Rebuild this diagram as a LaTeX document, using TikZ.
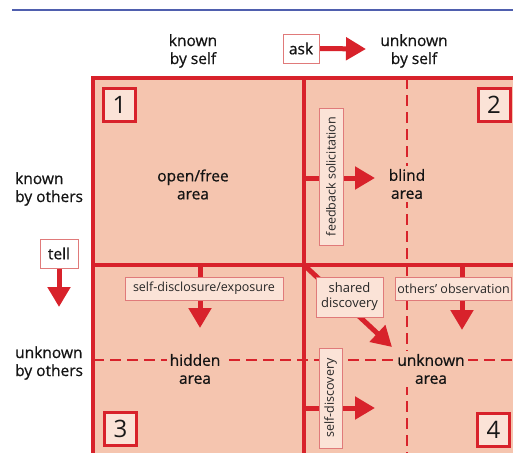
\documentclass[tikz,border=0pt]{standalone}
\usepackage{fontspec}
\setmainfont{Open Sans}
\newfontfamily\medfont{Open Sans}[FakeBold=0.7]
\usetikzlibrary{arrows.meta}
\definecolor{peach}{HTML}{F5C5AF}
\definecolor{jred}{HTML}{D8222B}
\definecolor{lbl}{HTML}{FBE3D7}
\definecolor{lblborder}{HTML}{E07A7A}
\definecolor{topblue}{HTML}{4F5FAE}
\pgfdeclarelayer{bottom}\pgfdeclarelayer{arrows}
\pgfsetlayers{bottom,arrows,main}
\begin{document}
\begin{tikzpicture}[x=1pt,y=-1pt,
 head/.style={text=black!92,font=\medfont\fontsize{15.5}{18}\selectfont,align=center,inner sep=0pt},
 sidehead/.style={head,align=left,anchor=west},
 area/.style={head,fill=peach,inner sep=3pt},
 numbox/.style={draw=jred,line width=3pt,fill=lbl,minimum width=32pt,minimum height=33pt,inner sep=0pt,font=\fontsize{24}{24}\selectfont,text=black!90},
 lblbox/.style={draw=lblborder,line width=0.8pt,fill=lbl,inner sep=2pt,font=\fontsize{12.5}{14}\selectfont,text=black!85,align=center},
 whitebox/.style={draw=lblborder,line width=0.8pt,fill=white,inner sep=0pt,font=\medfont\fontsize{15.5}{17}\selectfont,text=black!92},
 bigarrow/.style={draw=jred,line width=5pt,-{Triangle[length=20pt,width=22pt]}},
 border/.style={draw=jred,line width=4.5pt},
 dashline/.style={draw=jred,line width=2pt,dash pattern=on 11pt off 6pt}
]
\useasboundingbox (0,0) rectangle (513,452);
\clip (0,0) rectangle (513,452);
% top rule
\draw[topblue,line width=1.5pt] (12,10) -- (513,10);
% headings
\node[head] (kself) at (193,51) {known\\by self};
\node[head] (uself) at (414,51) {unknown\\by self};
\node[whitebox,minimum width=36pt,minimum height=29pt] (ask) at (301,48.5) {ask};
\coordinate (askend) at (366,49);
\node[sidehead] (kothers) at (15,189) {known\\by others};
\node[sidehead] (uothers) at (15,363) {unknown\\by others};
\node[whitebox,minimum width=38pt,minimum height=29pt] (tell) at (59,253.5) {tell};
\coordinate (tellend) at (59,307);
% grid
\begin{pgfonlayer}{bottom}
\fill[peach] (93,78) rectangle (540,480);
\draw[dashline] (407,78) -- (407,480);
\draw[dashline] (93,360) -- (540,360);
\draw[border] (93,78) rectangle (540,480);
\draw[border] (304,78) -- (304,480);
\draw[border] (93,265) -- (540,265);
\end{pgfonlayer}
% number boxes
\node[numbox] (n1) at (119.5,104.5) {1};
\node[numbox] (n2) at (494,104.5) {2};
\node[numbox] (n3) at (120.5,428.5) {3};
\node[numbox] (n4) at (493.5,429.5) {4};
% areas
\node[area] (open) at (193,184.5) {open/free\\area};
\node[area] (blind) at (407,184) {blind\\area};
\node[area] (hidden) at (195,369) {hidden\\area};
\node[area] (unknown) at (431,369) {unknown\\area};
% label boxes
\node[lblbox,minimum width=158pt,minimum height=23pt] (sdisc) at (204,288.5) {self-disclosure/exposure};
\node[lblbox,rotate=90,minimum width=137pt,minimum height=24pt] (fb) at (331,176.5) {feedback solicitation};
\node[lblbox,minimum width=67pt,minimum height=40pt,inner sep=1pt,font=\fontsize{13}{15}\selectfont] (shared) at (349.5,297) {shared\\discovery};
\node[lblbox,anchor=west,minimum height=23pt] (obs) at (395,288.5) {others' observation};
\node[lblbox,rotate=90,minimum width=100pt,minimum height=23pt] (selfd) at (330.5,398) {self-discovery};
% arrow coordinates
\coordinate (fbs) at (304,178);
\coordinate (fbe) at (375,178);
\coordinate (sds) at (200,265);
\coordinate (sde) at (200,328);
\coordinate (shs) at (304,265);
\coordinate (she) at (392,347);
\coordinate (obss) at (462,265);
\coordinate (obse) at (462,330);
\coordinate (sfs) at (304,408);
\coordinate (sfe) at (375,408);
\begin{pgfonlayer}{arrows}
\draw[bigarrow] (ask.east) -- (askend);
\draw[bigarrow] (tell.south) -- (tellend);
\draw[bigarrow] (fbs) -- (fbe);
\draw[bigarrow] (sds) -- (sde);
\draw[bigarrow] (shs) -- (she);
\draw[bigarrow] (obss) -- (obse);
\draw[bigarrow] (sfs) -- (sfe);
\end{pgfonlayer}
\end{tikzpicture}
\end{document}
